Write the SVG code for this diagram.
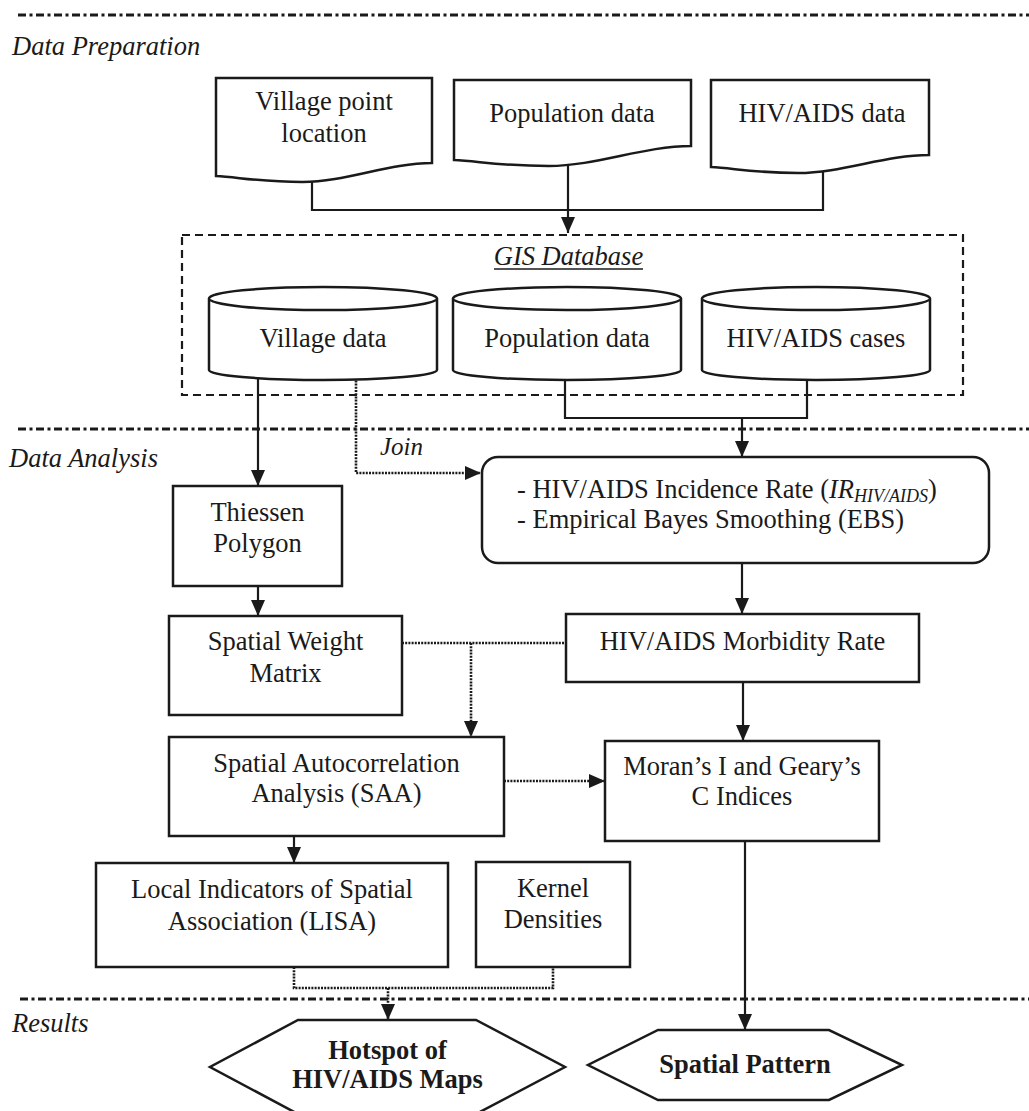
<svg xmlns="http://www.w3.org/2000/svg" width="1029" height="1111" viewBox="0 0 1029 1111">
<defs>
<marker id="ah" viewBox="0 0 16 14" refX="16" refY="7" markerWidth="16" markerHeight="14" markerUnits="userSpaceOnUse" orient="auto"><path d="M0,0 L16,7 L0,14 z" fill="#1a1a1a"/></marker>
<style>
.t{font-family:"Liberation Serif","Times New Roman",serif;font-size:26.5px;fill:#1a1a1a;text-anchor:middle}
.ts{font-family:"Liberation Serif","Times New Roman",serif;font-size:26.5px;fill:#1a1a1a;text-anchor:start}
.b{font-weight:bold}
.sec{font-family:"Liberation Serif","Times New Roman",serif;font-size:26.5px;font-style:italic;fill:#1a1a1a}
.n{fill:#fff;stroke:#1a1a1a;stroke-width:2.5}
.c{fill:none;stroke:#1a1a1a;stroke-width:2.2}
.d{fill:none;stroke:#1a1a1a;stroke-width:2.6;stroke-dasharray:2 1.2}
.dd{fill:none;stroke:#1a1a1a;stroke-width:3;stroke-dasharray:8 3.5 3 3.5}
</style>
</defs>
<rect width="1029" height="1111" fill="#fff"/>

<g id="section-lines">
<line class="dd" x1="18" y1="15" x2="1029" y2="15"/>
<line class="dd" x1="18" y1="429" x2="1029" y2="429"/>
<line class="dd" x1="20" y1="999" x2="1029" y2="999"/>
<text class="sec" x="12" y="55">Data Preparation</text>
<text class="sec" x="9" y="467">Data Analysis</text>
<text class="sec" x="12" y="1032">Results</text>
</g>

<g id="connectors">
<path class="c" d="M312,170 V210 H823 V160"/>
<path class="c" d="M568,160 V233" marker-end="url(#ah)"/>
<path class="c" d="M258,372 V486" marker-end="url(#ah)"/>
<path class="d" d="M356,374 V473 H481" marker-end="url(#ah)"/>
<text class="sec" x="380" y="455" style="font-size:25px">Join</text>
<path class="c" d="M565,372 V418 H807 V372"/>
<path class="c" d="M742,418 V457" marker-end="url(#ah)"/>
<path class="c" d="M258,586 V616" marker-end="url(#ah)"/>
<path class="c" d="M742,563 V614" marker-end="url(#ah)"/>
<path class="d" d="M402,643 H566"/>
<path class="d" d="M471,643 V737" marker-end="url(#ah)"/>
<path class="c" d="M743,682 V741" marker-end="url(#ah)"/>
<path class="d" d="M504,781 H605" marker-end="url(#ah)"/>
<path class="c" d="M294,836 V863" marker-end="url(#ah)"/>
<path class="d" d="M294,967 V988 H553 V967"/>
<path class="d" d="M388,988 V1020" marker-end="url(#ah)"/>
<path class="c" d="M745,841 V1030" marker-end="url(#ah)"/>
</g>

<g id="doc-village">
<path class="n" d="M216,78 H432 V163 C388.8,163 345.6,182 302.4,182 C259.2,182 237.6,177 216,176 Z"/>
<text class="t" x="324" y="110">Village point</text>
<text class="t" x="324" y="142">location</text>
</g>
<g id="doc-population">
<path class="n" d="M454,80 H691 V146 C643.6,146 596.2,166 548.8,166 C501.4,166 477.7,161 454,160 Z"/>
<text class="t" x="572" y="122">Population data</text>
</g>
<g id="doc-hiv">
<path class="n" d="M711,80 H929 V155 C885.4,155 841.8,173 798.2,173 C754.6,173 732.8,168 711,167 Z"/>
<text class="t" x="822" y="122">HIV/AIDS data</text>
</g>

<g id="gis-database">
<rect x="182" y="235" width="781" height="160" fill="none" stroke="#1a1a1a" stroke-width="2.2" stroke-dasharray="8 5"/>
<text class="sec" x="568.5" y="265" text-anchor="middle">GIS Database</text>
<line x1="494" y1="269" x2="643" y2="269" stroke="#1a1a1a" stroke-width="1.5"/>
</g>

<g id="cyl-village">
<path class="n" d="M209,298.5 V370 A114,10 0 0 0 437,370 V298.5"/>
<ellipse class="n" cx="323" cy="298.5" rx="114" ry="11.5"/>
<text class="t" x="323" y="347">Village data</text>
</g>
<g id="cyl-population">
<path class="n" d="M453,298.5 V370 A114,10 0 0 0 681,370 V298.5"/>
<ellipse class="n" cx="567" cy="298.5" rx="114" ry="11.5"/>
<text class="t" x="567" y="347">Population data</text>
</g>
<g id="cyl-hiv">
<path class="n" d="M702,298.5 V370 A114,10 0 0 0 930,370 V298.5"/>
<ellipse class="n" cx="816" cy="298.5" rx="114" ry="11.5"/>
<text class="t" x="816" y="347">HIV/AIDS cases</text>
</g>

<g id="incidence-ebs">
<rect class="n" x="482" y="457" width="507" height="106" rx="16"/>
<text class="ts" x="517" y="498">- HIV/AIDS Incidence Rate (<tspan font-style="italic">IR</tspan><tspan font-style="italic" font-size="18" dy="4">HIV/AIDS</tspan><tspan dy="-4">)</tspan></text>
<text class="ts" x="517" y="528">- Empirical Bayes Smoothing (EBS)</text>
</g>

<g id="thiessen">
<rect class="n" x="173" y="486" width="169" height="100"/>
<text class="t" x="257.5" y="521">Thiessen</text>
<text class="t" x="257.5" y="552">Polygon</text>
</g>

<g id="spatial-weight">
<rect class="n" x="169" y="616" width="233" height="99"/>
<text class="t" x="285.5" y="650">Spatial Weight</text>
<text class="t" x="285.5" y="682">Matrix</text>
</g>

<g id="morbidity">
<rect class="n" x="566" y="614" width="353" height="68"/>
<text class="t" x="742.5" y="650">HIV/AIDS Morbidity Rate</text>
</g>

<g id="saa">
<rect class="n" x="169" y="737" width="335" height="99"/>
<text class="t" x="336.5" y="772">Spatial Autocorrelation</text>
<text class="t" x="336.5" y="802">Analysis (SAA)</text>
</g>

<g id="moran-geary">
<rect class="n" x="605" y="741" width="274" height="100"/>
<text class="t" x="742" y="775">Moran’s I and Geary’s</text>
<text class="t" x="742" y="805">C Indices</text>
</g>

<g id="lisa">
<rect class="n" x="96" y="863" width="352" height="104"/>
<text class="t" x="272" y="898">Local Indicators of Spatial</text>
<text class="t" x="272" y="930">Association (LISA)</text>
</g>

<g id="kernel">
<rect class="n" x="476" y="862" width="154" height="105"/>
<text class="t" x="553" y="897">Kernel</text>
<text class="t" x="553" y="928">Densities</text>
</g>

<g id="hotspot">
<polygon class="n" points="298,1020 476,1020 565,1067 476,1114 298,1114 210,1067"/>
<text class="t b" x="387.5" y="1059">Hotspot of</text>
<text class="t b" x="387.5" y="1088">HIV/AIDS Maps</text>
</g>

<g id="spatial-pattern">
<polygon class="n" points="658,1030 829,1030 902,1065 829,1100 658,1100 588,1065"/>
<text class="t b" x="745" y="1073">Spatial Pattern</text>
</g>
</svg>
